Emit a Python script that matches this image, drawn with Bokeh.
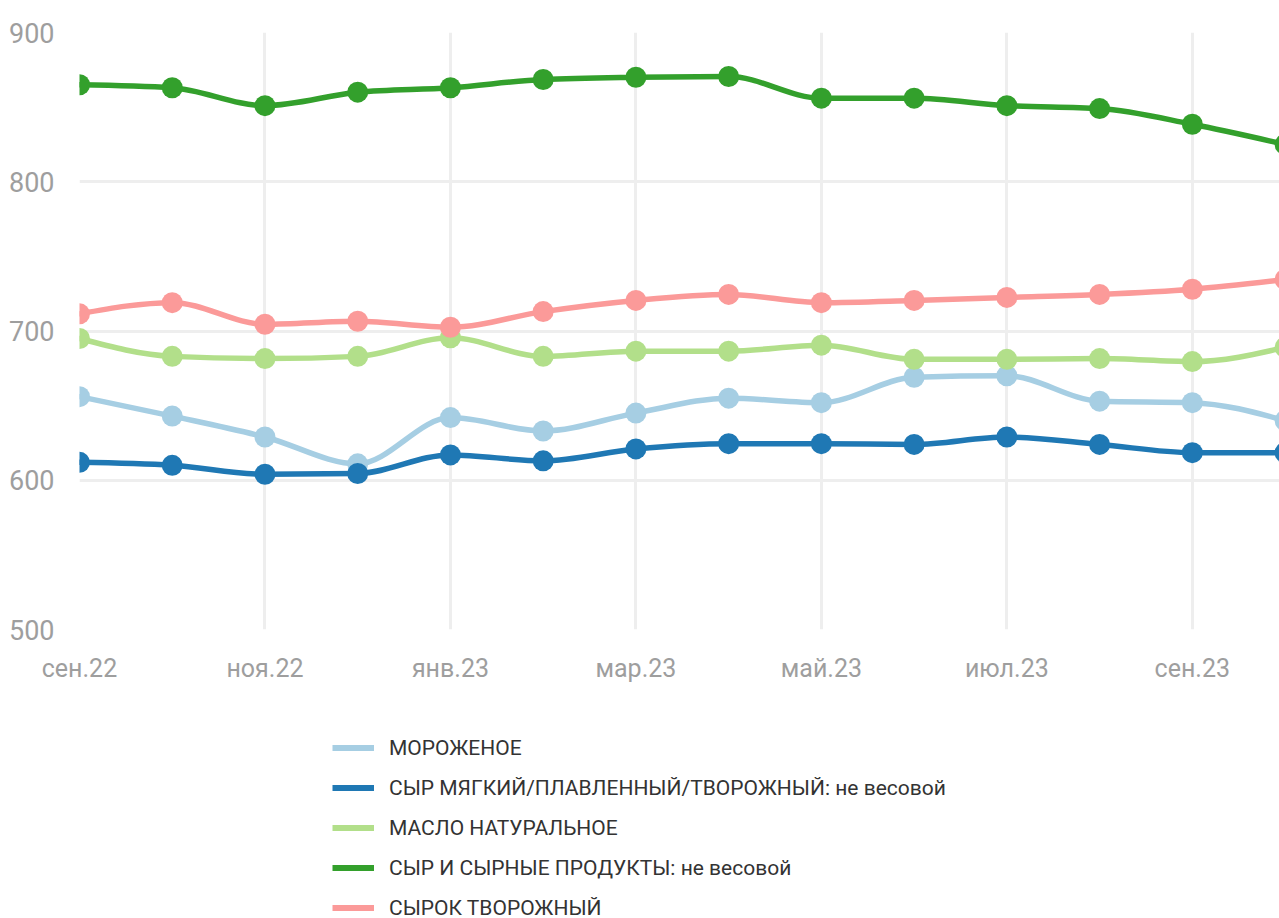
import numpy as np
from bokeh.plotting import figure
from bokeh.layouts import column
from bokeh.models import Range1d, FixedTicker, Legend, LegendItem, ColumnDataSource
from bokeh.embed import file_html
from bokeh.resources import INLINE

months = ["сен.22", "окт.22", "ноя.22", "дек.22", "янв.23", "фев.23", "мар.23",
          "апр.23", "май.23", "июн.23", "июл.23", "авг.23", "сен.23", "окт.23"]

series_names = [
    "МОРОЖЕНОЕ",
    "СЫР МЯГКИЙ/ПЛАВЛЕННЫЙ/ТВОРОЖНЫЙ: не весовой",
    "МАСЛО НАТУРАЛЬНОЕ",
    "СЫР И СЫРНЫЕ ПРОДУКТЫ: не весовой",
    "СЫРОК ТВОРОЖНЫЙ",
]
morozhenoe = [656, 643, 629, 611, 642, 633, 645, 655, 652, 669, 670, 653, 652, 640]
syr_myagkiy = [612, 610, 604, 604.5, 617, 613, 621, 624.5, 624.5, 624, 629, 624, 618.5, 618.5]
maslo = [695, 683, 681.5, 683, 695.5, 683, 686.5, 686.5, 690.5, 681, 681, 681.5, 679.5, 689]
syr_produkty = [865, 863, 851, 860, 863, 868.5, 870, 870.5, 856, 856, 851, 849, 838.5, 825]
syrok = [711.5, 719, 704.5, 706.5, 702.5, 713, 720.5, 724.5, 719, 720.5, 722.5, 724.5, 728, 734.5]

colors = ["#a6cee3", "#1f78b4", "#b2df8a", "#33a02c", "#fb9a99"]
all_series = [morozhenoe, syr_myagkiy, maslo, syr_produkty, syrok]

x = np.arange(len(months), dtype=float)

p = figure(width=1279, height=700, output_backend="svg", toolbar_location=None,
           x_range=Range1d(0, 12.94), y_range=Range1d(500, 900),
           min_border_left=79, min_border_right=0, min_border_top=32,
           min_border_bottom=71)
p.outline_line_color = None
p.background_fill_color = "white"
p.border_fill_color = "white"

for ax in (p.xaxis[0], p.yaxis[0]):
    ax.axis_line_color = None
    ax.major_tick_line_color = None
    ax.minor_tick_line_color = None
    ax.major_tick_out = 0
    ax.major_tick_in = 0
    ax.minor_tick_out = 0
    ax.major_label_text_color = "#9e9e9e"
    ax.major_label_text_font = "Roboto"

p.xaxis.ticker = FixedTicker(ticks=[0, 2, 4, 6, 8, 10, 12])
p.xaxis.major_label_overrides = {i: months[i] for i in range(0, 13, 2)}
p.xaxis.major_label_text_font_size = "25px"
p.xaxis.major_label_standoff = 24

p.yaxis.ticker = FixedTicker(ticks=[500, 600, 700, 800, 900])
p.yaxis.major_label_text_font_size = "27px"
p.yaxis.major_label_standoff = 25

p.xgrid.grid_line_color = "#eeeeee"
p.ygrid.grid_line_color = "#eeeeee"
p.xgrid.grid_line_width = 3
p.ygrid.grid_line_width = 3


def monotone_tangents(xs, ys):
    n = len(xs)
    t = np.zeros(n)
    h = np.diff(xs)
    s = np.diff(ys) / h
    for i in range(1, n - 1):
        s0, s1 = s[i - 1], s[i]
        pm = (s0 * h[i] + s1 * h[i - 1]) / (h[i - 1] + h[i])
        t[i] = (np.sign(s0) + np.sign(s1)) * min(abs(s0), abs(s1), 0.5 * abs(pm))
    t[0] = (3 * s[0] - t[1]) / 2
    t[-1] = (3 * s[-1] - t[-2]) / 2
    return t


# legend-only figure below the chart (its series lie outside its ranges)
lg = figure(width=1279, height=218, output_backend="svg", toolbar_location=None,
            x_range=Range1d(0, 1), y_range=Range1d(0, 1),
            x_axis_type=None, y_axis_type=None,
            min_border_left=0, min_border_right=0, min_border_top=0,
            min_border_bottom=0)
lg.outline_line_color = None
lg.xgrid.visible = False
lg.ygrid.visible = False

items = []
for name, ys, col in zip(series_names, all_series, colors):
    ys = np.asarray(ys, dtype=float)
    t = monotone_tangents(x, ys)
    h = np.diff(x)
    src = ColumnDataSource(dict(
        x0=x[:-1], y0=ys[:-1], x1=x[1:], y1=ys[1:],
        cx0=x[:-1] + h / 3, cy0=ys[:-1] + t[:-1] * h / 3,
        cx1=x[1:] - h / 3, cy1=ys[1:] - t[1:] * h / 3,
    ))
    p.bezier(x0="x0", y0="y0", x1="x1", y1="y1", cx0="cx0", cy0="cy0",
             cx1="cx1", cy1="cy1", source=src, line_color=col,
             line_width=5.5, line_cap="round")
    p.scatter(x, ys, size=21, fill_color=col, line_color=col, line_width=0)
    r = lg.line(x=x, y=ys, line_color=col, line_width=6)
    items.append(LegendItem(label=name, renderers=[r]))

legend = Legend(items=items, location=(253, -2), orientation="vertical",
                label_text_font="Roboto", label_text_font_size="21px",
                label_text_color="#333333", glyph_width=42, glyph_height=25,
                label_height=25, label_standoff=15, spacing=15, padding=0,
                margin=0, border_line_color=None, background_fill_alpha=0)
lg.add_layout(legend, "center")

layout = column(p, lg, spacing=0)
open("out.html", "w").write(file_html(layout, INLINE))
